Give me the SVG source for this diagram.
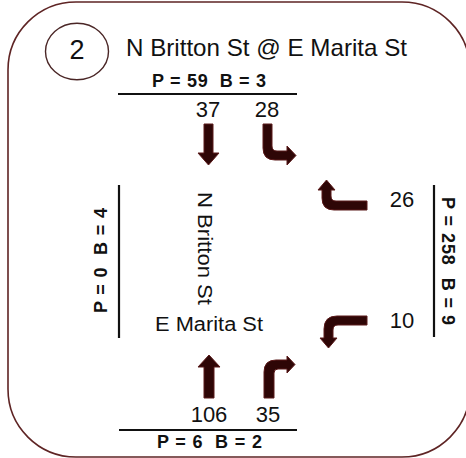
<svg xmlns="http://www.w3.org/2000/svg" width="466" height="458" viewBox="0 0 466 458">
  <style>
    .frame { fill: none; stroke: #5e2424; stroke-width: 1.6; }
    .badge { fill: none; stroke: #4a2626; stroke-width: 1.4; }
    .bar { stroke: #111; stroke-width: 2.2; }
    .t { font-family: "Liberation Sans", Arial, sans-serif; fill: #111; }
    .title { font-size: 24px; }
    .num { font-size: 22px; }
    .ped { font-size: 18px; font-weight: bold; }
    .street { font-size: 20px; }
    .arrow { fill: #2e0606; stroke: #5b1a1a; stroke-width: 1; stroke-linejoin: miter; }
  </style>

  <!-- outer frame -->
  <rect class="frame" x="8" y="2" width="462" height="455" rx="68" ry="68"/>

  <!-- header: intersection number and name -->
  <g id="header">
    <ellipse class="badge" cx="77" cy="51.5" rx="31.5" ry="28.3"/>
    <text class="t" x="77" y="59" font-size="27" text-anchor="middle">2</text>
    <text class="t title" x="126" y="56" textLength="281" lengthAdjust="spacingAndGlyphs">N Britton St @ E Marita St</text>
  </g>

  <!-- north approach -->
  <g id="north">
    <text class="t ped" x="152" y="87" textLength="114" lengthAdjust="spacing" xml:space="preserve">P = 59  B = 3</text>
    <line class="bar" x1="118" y1="94" x2="297" y2="94"/>
    <text class="t num" x="208" y="117" text-anchor="middle">37</text>
    <text class="t num" x="267" y="117" text-anchor="middle">28</text>
  </g>

  <!-- south approach -->
  <g id="south">
    <text class="t num" x="209" y="422" text-anchor="middle">106</text>
    <text class="t num" x="268" y="422" text-anchor="middle">35</text>
    <line class="bar" x1="119" y1="430" x2="297" y2="430"/>
    <text class="t ped" x="157" y="448" textLength="105" lengthAdjust="spacing" xml:space="preserve">P = 6  B = 2</text>
  </g>

  <!-- east approach -->
  <g id="east">
    <text class="t num" x="402" y="207" text-anchor="middle">26</text>
    <text class="t num" x="402" y="328" text-anchor="middle">10</text>
    <line class="bar" x1="434" y1="185" x2="434" y2="337"/>
    <text class="t ped" transform="translate(442,197) rotate(90)" textLength="128" lengthAdjust="spacing" xml:space="preserve">P = 258  B = 9</text>
  </g>

  <!-- west approach -->
  <g id="west">
    <line class="bar" x1="119" y1="185" x2="119" y2="338"/>
    <text class="t ped" transform="translate(107,313) rotate(-90)" textLength="105" lengthAdjust="spacing" xml:space="preserve">P = 0  B = 4</text>
  </g>

  <!-- street names -->
  <g id="streets">
    <text class="t street" transform="translate(198,192) rotate(90)" textLength="113" lengthAdjust="spacingAndGlyphs">N Britton St</text>
    <text class="t street" x="155" y="331" textLength="108" lengthAdjust="spacingAndGlyphs">E Marita St</text>
  </g>

  <!-- turning movement arrows -->
  <g id="connectors">
    <!-- southbound through -->
    <path class="arrow" d="M204,124 H213 V153 H219 L208.5,165 L198,153 H204 Z"/>
    <!-- southbound turn -->
    <path class="arrow" d="M263,124 H272 V146 Q272,151 277,151 H287 V146 L296,155.5 L287,165 V160 H275 Q263,160 263,148 Z"/>
    <!-- westbound turn (upper) -->
    <path class="arrow" d="M367,201 V210 H334 Q322,210 322,198 V190 H318 L326.5,180 L335,190 H331 V196 Q331,201 336,201 Z"/>
    <!-- westbound turn (lower) -->
    <path class="arrow" d="M367,316 V325 H338 Q333,325 333,330 V338 H337 L328.5,348 L320,338 H324 V329 Q324,316 337,316 Z"/>
    <!-- northbound through -->
    <path class="arrow" d="M204,398 V367 H198 L209,355 L220,367 H214 V398 Z"/>
    <!-- northbound turn -->
    <path class="arrow" d="M264,398 V372 Q264,360 276,360 H287 V356 L295,364.5 L287,373 V369 H278 Q274,369 274,373 V398 Z"/>
  </g>
</svg>
